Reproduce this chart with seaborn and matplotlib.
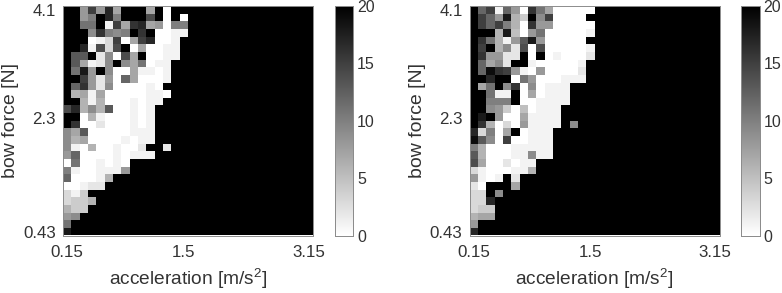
import numpy as np
import pandas as pd
import matplotlib
matplotlib.use('Agg')
import matplotlib.pyplot as plt
import seaborn as sns

# failure counts per cell, top row (4.1 N) first; cells past the end of a row are black
left_rows = [
    [20,20,8,15,8,17,7,20,20,20,7,20,0],
    [20,20,8,10,20,17,10,20,20,20,14,20,0,20,0],
    [20,20,11,11,20,1,15,7,16,17,7,8,0,10,10],
    [20,20,20,9,16,10,9,10,20,16,20,0,0,1,1],
    [20,20,20,0,1,3,15,0,7,15,17,0,0,1],
    [20,20,17,1,14,3,14,20,0,7,0,0,1,1],
    [20,13,13,20,2,9,0,14,7,20,0,0,1,1],
    [20,13,7,1,2,9,20,9,7,11,0,1,1],
    [20,11,18,8,20,9,0,0,7,1,1,0,1],
    [20,20,15,8,2,8,0,12,7,0,0,0,1],
    [20,12,16,8,2,9,0,0,0,0,1,0],
    [20,6,7,1,7,0,0,0,0,0,1,1,0],
    [20,20,6,1,6,0,0,0,1,0,1,1],
    [14,17,6,9,6,13,0,0,1,0,1],
    [20,20,0,6,1,0,0,0,1,0,1],
    [20,16,0,0,2,0,0,0,1,0,1],
    [9,7,13,0,0,0,0,0,1,1,1],
    [9,6,7,0,0,0,0,1,0,1,1],
    [9,1,0,6,0,0,1,0,0,2,20,20,2],
    [8,12,0,0,0,0,1,0,1,1,1],
    [0,11,0,0,1,0,1,0],
    [10,1,0,0,1,1,1,8],
    [12,0,0,0,1,6],
    [0,0,1,2,2],
    [3,1,4],
    [3,4,4,6],
    [6,4,4],
    [8,9],
    [11],
    [18],
]
right_rows = [
    [20,12,15,1,12,8,0,16,11,7,0,0,0,0,0],
    [20,15,12,8,18,6,4,20,9,15,0,0,0,0,20],
    [20,15,12,15,10,6,0,16,8,8,0,0,0,0,0],
    [20,20,20,6,18,5,0,8,11,0,0,0,0,0,1],
    [20,16,11,6,1,8,13,18,8,0,0,0,0,0,20],
    [20,15,20,6,9,2,14,0,14,0,0,0,0,0,1],
    [20,16,8,8,2,2,20,0,20,0,1,0,0,0,2],
    [20,12,7,9,2,20,20,1,0,0,0,0,0,1],
    [20,12,19,16,15,8,1,0,8,0,0,0,0,2],
    [20,20,17,20,20,0,11,8,0,0,0,1,1,1],
    [20,7,11,20,9,16,0,9,0,1,1,1],
    [20,20,11,1,1,20,0,7,0,1,1,1],
    [20,20,10,10,10,20,0,0,1,1,1,1],
    [20,20,9,8,4,0,5,0,1,1,1],
    [20,18,20,8,0,0,7,1,1,1,1],
    [20,16,6,0,3,0,8,1,1,1,1,20,9],
    [17,3,10,0,7,20,0,1,1,1],
    [19,13,9,0,15,0,0,1,1,1],
    [10,6,0,0,0,1,1,1,1,1],
    [13,6,0,0,0,1,1,9,1,1],
    [14,7,0,0,2,0,1,1],
    [3,1,0,0,0,1,1,6],
    [8,1,0,1,20,2],
    [2,0,20,20,20,7],
    [3,3,20,9],
    [3,3,17],
    [3,4,4],
    [6,7,7],
    [8],
    [17],
]
n_cols = 30
x_labels = ['0.15', '1.5', '3.15']
y_labels = ['0.43', '2.3', '4.1']
# the ticks sit on cell centres, not on a linear scale
x_tick_cells = [0.5, 14.5, 29.5]
y_tick_cells = [29.5, 14.7, 0.5]
cbar_ticks = [0, 5, 10, 15, 20]

plt.rcParams['font.family'] = ['Liberation Sans', 'DejaVu Sans']
plt.rcParams['mathtext.default'] = 'regular'
plt.rcParams['font.size'] = 12.2
text_color = '#333333'
edge_color = '#8c8c8c'


def to_frame(rows):
    filled = [r + [20] * (n_cols - len(r)) for r in rows]
    return pd.DataFrame(filled)


def draw_panel(fig, rows, x0):
    W, H = 782, 293
    ax = fig.add_axes([x0 / W, 1 - 235.5 / H, 250 / W, 229.5 / H])
    cax = fig.add_axes([(x0 + 271.5) / W, 1 - 235.5 / H, 18.5 / W, 229.5 / H])
    sns.heatmap(to_frame(rows), ax=ax, cbar_ax=cax, cmap='gray_r', vmin=0, vmax=20,
                square=False, xticklabels=False, yticklabels=False,
                cbar_kws={'ticks': cbar_ticks})
    ax.set_xticks(x_tick_cells)
    ax.set_xticklabels(x_labels, color=text_color)
    ax.set_yticks(y_tick_cells)
    ax.set_yticklabels(y_labels, color=text_color, rotation=0)
    ax.tick_params(axis='x', length=0, pad=7)
    ax.tick_params(axis='y', length=0, pad=5)
    ax.set_xlabel('acceleration [m/s$^2$]', color=text_color, labelpad=5, fontsize=13.8)
    ax.set_ylabel('bow force [N]', color=text_color, labelpad=3, fontsize=14)
    for s in ax.spines.values():
        s.set_visible(True)
        s.set_color(edge_color)
        s.set_linewidth(0.7)
    cax.tick_params(labelsize=11.5, labelcolor=text_color, length=0, pad=3)
    for s in cax.spines.values():
        s.set_visible(True)
        s.set_color(edge_color)
        s.set_linewidth(0.7)


fig = plt.figure(figsize=(7.82, 2.93), dpi=100)
draw_panel(fig, left_rows, 63)
draw_panel(fig, right_rows, 469.5)
fig.savefig('out.png', dpi=100)
